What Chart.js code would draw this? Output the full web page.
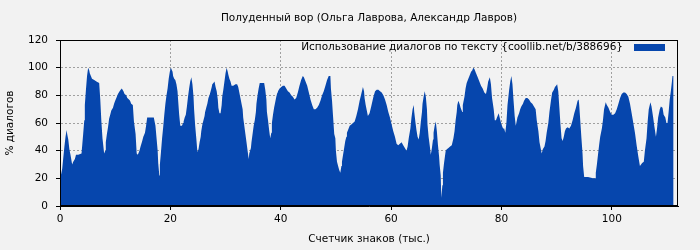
<!DOCTYPE html>
<html>
<head>
<meta charset="utf-8">
<script src="https://cdn.jsdelivr.net/npm/chart.js@4.4.1/dist/chart.umd.min.js"></script>
<style>
html, body { margin: 0; padding: 0; background: #f2f2f2; }
</style>
</head>
<body>
<canvas id="myChart" width="700" height="250"></canvas>
<script>
// chart texts
var chartTitle = "Полуденный вор (Ольга Лаврова, Александр Лавров)";
var seriesLabel = "Использование диалогов по тексту {coollib.net/b/388696}";
var xTitle = "Счетчик знаков (тыс.)";
var yTitle = "% диалогов";

// tick labels
var xTicks = [0, 20, 40, 60, 80, 100];
var yTicks = [0, 20, 40, 60, 80, 100, 120];

// character counter (thousands)
var counts = [
	0, 0.1, 0.4, 0.6, 0.8, 1.0, 1.2, 1.3, 1.5, 1.7,
	1.9, 2.2, 2.4, 2.7, 2.9, 3.3, 3.9, 4.2, 4.4, 4.5,
	4.7, 4.9, 5.1, 5.3, 5.4, 5.6, 5.8, 6.2, 6.6, 7.1,
	7.3, 7.5, 7.7, 8.0, 8.2, 8.3, 8.5, 8.7, 8.9, 9.1,
	9.3, 9.6, 9.8, 10.0, 10.3, 10.5, 10.8, 11.0, 11.2, 11.5,
	11.7, 12.0, 12.2, 12.5, 12.7, 12.9, 13.2, 13.4, 13.7, 13.9,
	14.1, 14.4, 14.6, 14.9, 15.1, 15.4, 15.6, 15.8, 16.6, 17.0,
	17.3, 17.5, 17.7, 17.8, 18.0, 18.1, 18.3, 18.5, 18.7, 18.9,
	19.1, 19.3, 19.5, 19.7, 19.9, 20.1, 20.3, 20.4, 20.5, 20.7,
	20.9, 21.1, 21.3, 21.4, 21.6, 21.8, 22.1, 22.3, 22.4, 22.6,
	22.8, 23.0, 23.2, 23.4, 23.6, 23.8, 24.0, 24.2, 24.3, 24.5,
	24.7, 24.9, 25.1, 25.3, 25.5, 25.6, 25.8, 26.0, 26.2, 26.3,
	26.5, 26.7, 26.9, 27.1, 27.3, 27.5, 27.6, 27.8, 28.0, 28.2,
	28.4, 28.6, 28.7, 28.9, 29.1, 29.3, 29.4, 29.6, 29.8, 30.0,
	30.2, 30.4, 30.5, 30.7, 30.9, 31.1, 31.4, 31.8, 32.1, 32.3,
	32.5, 32.7, 32.9, 33.1, 33.2, 33.4, 33.6, 33.8, 34.0, 34.2,
	34.3, 34.6, 34.7, 34.9, 35.1, 35.3, 35.5, 35.6, 35.8, 36.0,
	36.2, 37.0, 37.2, 37.4, 37.5, 37.7, 37.9, 38.1, 38.3, 38.4,
	38.6, 38.8, 39.0, 39.2, 39.4, 39.5, 39.8, 40.1, 40.4, 40.7,
	41.0, 41.3, 41.6, 41.9, 42.2, 42.5, 42.8, 43.1, 43.4, 43.7,
	44.0, 44.2, 44.5, 44.8, 45.1, 45.4, 45.7, 46.0, 46.3, 46.6,
	46.9, 47.2, 47.5, 47.8, 48.1, 48.4, 48.7, 49.0, 49.1, 49.3,
	49.5, 49.7, 49.9, 50.0, 50.2, 50.4, 50.6, 50.8, 51.0, 51.1,
	51.3, 51.5, 51.7, 51.9, 52.0, 52.2, 52.5, 52.8, 53.1, 53.4,
	53.7, 54.0, 54.3, 54.6, 54.9, 55.1, 55.2, 55.4, 55.6, 55.8,
	56.1, 56.4, 56.8, 57.1, 57.4, 57.7, 58.0, 58.3, 58.6, 58.9,
	59.2, 59.5, 59.8, 60.1, 60.4, 60.7, 61.0, 61.3, 61.6, 61.9,
	62.2, 62.5, 62.8, 63.0, 63.2, 63.5, 63.7, 63.9, 64.1, 64.2,
	64.4, 64.6, 64.8, 65.0, 65.2, 65.4, 65.6, 65.7, 65.9, 66.1,
	66.3, 66.5, 66.6, 66.8, 67.0, 67.2, 67.4, 67.6, 67.7, 67.9,
	68.1, 68.3, 68.5, 68.7, 68.8, 69.0, 69.1, 69.3, 69.4, 69.6,
	69.9, 70.1, 70.4, 70.7, 71.0, 71.3, 71.5, 71.7, 71.9, 72.0,
	72.2, 72.4, 72.6, 72.9, 73.0, 73.3, 73.5, 73.7, 74.0, 74.2,
	74.5, 74.7, 74.9, 75.1, 75.4, 75.7, 76.0, 76.3, 76.6, 76.9,
	77.2, 77.4, 77.6, 77.9, 78.1, 78.3, 78.6, 78.8, 79.0, 79.3,
	79.5, 79.8, 80.0, 80.3, 80.5, 80.7, 80.9, 81.1, 81.4, 81.6,
	81.8, 82.0, 82.2, 82.4, 82.6, 82.7, 82.9, 83.2, 83.4, 83.6,
	83.9, 84.1, 84.4, 84.7, 85.0, 85.3, 85.6, 85.9, 86.2, 86.4,
	86.7, 86.9, 87.2, 87.3, 87.5, 87.8, 88.0, 88.2, 88.5, 88.7,
	89.0, 89.2, 89.5, 89.7, 89.9, 90.1, 90.3, 90.5, 90.7, 90.9,
	91.1, 91.3, 91.5, 91.7, 92.0, 92.3, 92.6, 92.9, 93.2, 93.5,
	93.8, 94.0, 94.1, 94.3, 94.5, 94.7, 94.8, 95.0, 95.7, 96.6,
	97.0, 97.1, 97.3, 97.5, 97.7, 97.9, 98.2, 98.4, 98.6, 98.9,
	99.1, 99.4, 99.7, 100.0, 100.3, 100.6, 100.9, 101.2, 101.5, 101.8,
	102.1, 102.4, 102.7, 103.0, 103.3, 103.6, 103.9, 104.2, 104.5, 104.8,
	105.1, 105.3, 105.5, 105.8, 106.0, 106.3, 106.5, 106.7, 107.0, 107.2,
	107.5, 107.7, 108.0, 108.2, 108.4, 108.7, 108.9, 109.2, 109.4, 109.7,
	109.9, 110.1, 110.3, 110.5, 110.7, 110.9, 111.0, 111.2
];

// share of dialogue (%), same order as counts
var usage = [
	19, 19, 27, 35, 43, 50, 55, 52, 48, 41,
	37, 30, 32, 34, 37, 37, 38, 52, 62, 73,
	84, 94, 100, 98, 96, 94, 92, 91, 90, 89,
	77, 61, 49, 38, 40, 46, 52, 57, 63, 66,
	69, 71, 74, 76, 79, 81, 83, 84, 85, 83,
	81, 80, 78, 77, 76, 74, 73, 61, 52, 38,
	37, 40, 43, 47, 50, 53, 58, 64, 64, 64,
	58, 49, 40, 31, 22, 30, 39, 49, 57, 66,
	74, 80, 85, 92, 97, 100, 98, 97, 94, 92,
	91, 88, 83, 77, 66, 58, 58, 60, 61, 64,
	66, 72, 79, 85, 90, 93, 88, 79, 70, 58,
	49, 39, 41, 46, 50, 54, 59, 62, 65, 68,
	71, 74, 78, 80, 83, 86, 88, 89, 90, 86,
	83, 77, 71, 67, 67, 73, 79, 84, 90, 96,
	100, 97, 95, 92, 90, 87, 87, 88, 88, 86,
	82, 78, 74, 70, 64, 58, 52, 46, 40, 34,
	38, 42, 46, 52, 58, 62, 68, 74, 80, 85,
	89, 89, 84, 77, 68, 62, 55, 49, 53, 60,
	66, 71, 75, 79, 82, 83, 85, 86, 87, 87,
	85, 83, 82, 80, 79, 77, 78, 82, 87, 91,
	94, 93, 90, 87, 82, 77, 73, 70, 70, 71,
	73, 76, 80, 83, 87, 91, 94, 94, 85, 76,
	64, 52, 49, 40, 32, 29, 26, 24, 29, 32,
	37, 42, 47, 50, 53, 55, 58, 59, 60, 61,
	65, 70, 76, 81, 86, 83, 78, 73, 69, 65,
	67, 72, 79, 83, 84, 84, 83, 82, 80, 77,
	73, 68, 64, 59, 54, 50, 45, 44, 45, 46,
	44, 42, 40, 43, 49, 56, 64, 70, 73, 68,
	61, 55, 50, 48, 53, 61, 68, 74, 79, 83,
	79, 70, 59, 50, 44, 37, 42, 48, 53, 58,
	61, 54, 44, 36, 30, 22, 6, 15, 24, 31,
	40, 41, 42, 43, 44, 49, 54, 62, 68, 73,
	76, 74, 71, 68, 73, 79, 85, 89, 92, 94,
	97, 98, 100, 99, 96, 93, 90, 87, 85, 82,
	81, 85, 90, 93, 88, 78, 70, 62, 62, 65,
	67, 62, 59, 56, 56, 53, 60, 73, 84, 90,
	94, 88, 76, 65, 58, 60, 64, 67, 70, 72,
	74, 76, 78, 78, 77, 75, 74, 72, 70, 62,
	54, 46, 40, 38, 41, 43, 47, 53, 60, 68,
	77, 82, 84, 86, 87, 88, 83, 71, 59, 49,
	47, 50, 54, 56, 57, 56, 58, 62, 67, 71,
	76, 77, 73, 61, 49, 38, 29, 21, 21, 20,
	20, 24, 30, 37, 44, 50, 56, 62, 70, 75,
	73, 71, 68, 66, 66, 67, 70, 74, 78, 81,
	82, 82, 81, 79, 74, 67, 60, 53, 44, 36,
	29, 30, 31, 32, 40, 49, 61, 70, 75, 72,
	64, 58, 50, 56, 64, 70, 72, 71, 66, 64,
	60, 60, 68, 77, 83, 90, 94, 94
];

var blue = "#0646ad";

Chart.defaults.font.family = "'DejaVu Sans', sans-serif";
Chart.defaults.font.size = 10.5;
Chart.defaults.color = "#000";

// title, legend and the frame round the plot
var decorations = {
	id: "decorations",
	beforeDraw: function(chart) {
		var ctx = chart.ctx;
		ctx.save();
		ctx.fillStyle = "#f2f2f2";
		ctx.fillRect(0, 0, chart.width, chart.height);
		ctx.restore();
	},
	afterDraw: function(chart) {
		var ctx = chart.ctx;
		var a = chart.chartArea;
		ctx.save();
		ctx.strokeStyle = "#000";
		ctx.lineWidth = 1;
		ctx.strokeRect(Math.round(a.left) + 0.5, Math.round(a.top) + 0.5,
			Math.round(a.right - a.left) - 1, Math.round(a.bottom - a.top) - 1);

		ctx.fillStyle = "#000";
		ctx.font = "10.5px 'DejaVu Sans', sans-serif";
		ctx.textBaseline = "middle";
		ctx.textAlign = "center";
		ctx.fillText(chartTitle, (a.left + a.right) / 2, 18);

		ctx.textAlign = "right";
		ctx.fillText(seriesLabel, a.right - 55, a.top + 7);
		ctx.fillStyle = blue;
		ctx.fillRect(a.right - 44, a.top + 4, 31, 7);
		ctx.restore();
	}
};

var ctx = document.getElementById("myChart").getContext("2d");
var chart = new Chart(ctx, {
	type: "line",
	data: {
		datasets: [{
			label: seriesLabel,
			data: counts.map(function(x, i) { return { x: x, y: usage[i] }; }),
			fill: "origin",
			backgroundColor: blue,
			borderColor: blue,
			borderWidth: 0,
			pointRadius: 0,
			tension: 0
		}]
	},
	options: {
		responsive: false,
		animation: false,
		layout: { padding: { top: 40, right: 22, left: 0, bottom: 0 } },
		plugins: {
			legend: { display: false },
			tooltip: { enabled: false },
			title: { display: false }
		},
		scales: {
			x: {
				type: "linear",
				min: 0,
				max: 112,
				afterBuildTicks: function(s) { s.ticks = xTicks.map(function(v) { return { value: v }; }); },
				afterFit: function(s) { s.height = 44; },
				ticks: { padding: 3, maxRotation: 0, color: "#000" },
				grid: { color: "#a0a0a0", tickColor: "#000", tickLength: 4 },
				border: { color: "#000", width: 1, dash: [2, 2] },
				title: { display: true, text: xTitle, padding: { top: 0, bottom: 4 }, color: "#000" }
			},
			y: {
				min: 0,
				max: 120,
				afterBuildTicks: function(s) { s.ticks = yTicks.map(function(v) { return { value: v }; }); },
				afterFit: function(s) { s.width = 60; },
				ticks: { padding: 8, color: "#000" },
				grid: { color: "#a0a0a0", tickColor: "#000", tickLength: 4 },
				border: { color: "#000", width: 1, dash: [2, 2] },
				title: { display: true, text: yTitle, padding: { top: 4, bottom: 0 }, color: "#000" }
			}
		}
	},
	plugins: [decorations]
});
</script>
</body>
</html>
